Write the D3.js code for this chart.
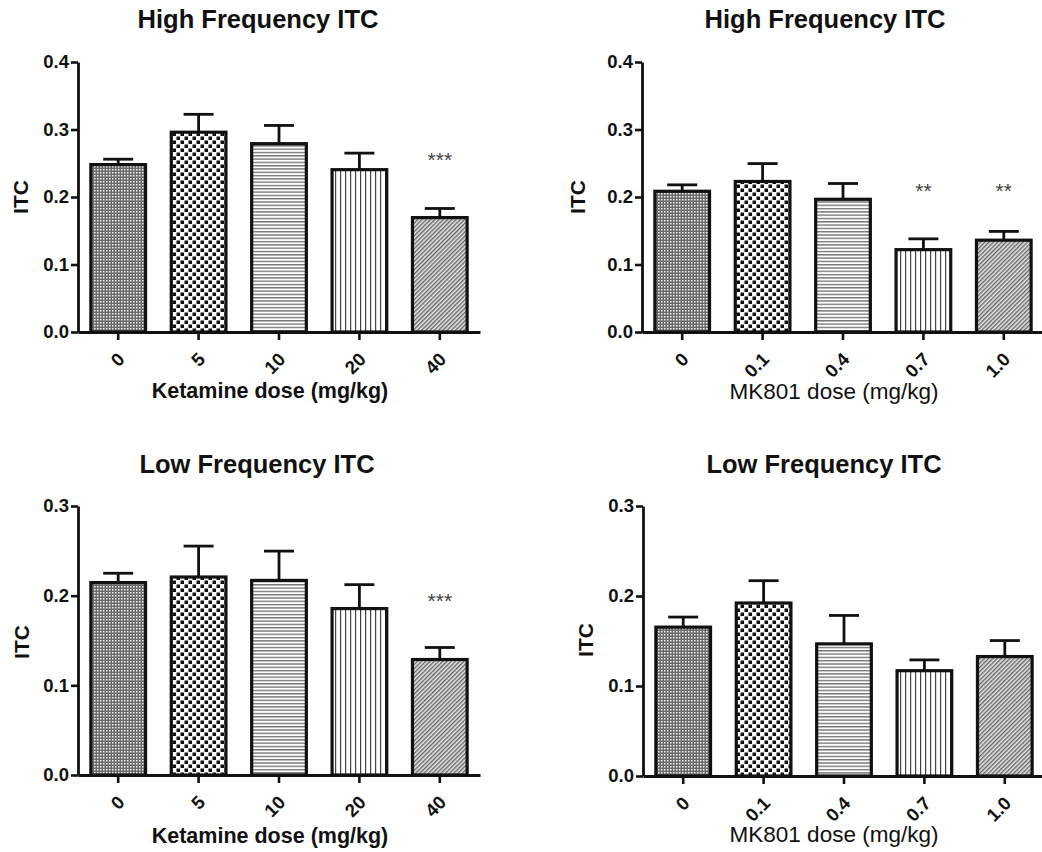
<!DOCTYPE html>
<html>
<head>
<meta charset="utf-8">
<script src="https://cdn.jsdelivr.net/npm/d3@7"></script>
<style>
  html, body { margin: 0; padding: 0; background: #fff; }
  svg { display: block; }
  text { font-family: "Liberation Sans", Arial, sans-serif; fill: #111; }
</style>
</head>
<body>
<svg id="chart" width="1042" height="852"></svg>
<script>
// ---- data ----
const ketamineDoses = ["0", "5", "10", "20", "40"];
const mk801Doses = ["0", "0.1", "0.4", "0.7", "1.0"];

const hfKetamineMean = [0.248, 0.296, 0.279, 0.2405, 0.1695];
const hfKetamineSem  = [0.008, 0.0265, 0.027, 0.0245, 0.0135];
const hfKetamineSig  = ["", "", "", "", "***"];

const hfMK801Mean = [0.2085, 0.223, 0.1966, 0.122, 0.136];
const hfMK801Sem  = [0.0095, 0.0265, 0.0234, 0.016, 0.013];
const hfMK801Sig  = ["", "", "", "**", "**"];

const lfKetamineMean = [0.2146, 0.2208, 0.217, 0.1856, 0.1288];
const lfKetamineSem  = [0.0104, 0.0345, 0.0327, 0.0267, 0.0134];
const lfKetamineSig  = ["", "", "", "", "***"];

const lfMK801Mean = [0.1654, 0.1922, 0.1468, 0.117, 0.1327];
const lfMK801Sem  = [0.0112, 0.0248, 0.0316, 0.012, 0.0178];
const lfMK801Sig  = ["", "", "", "", ""];

const hfTicks = [0, 0.1, 0.2, 0.3, 0.4];
const lfTicks = [0, 0.1, 0.2, 0.3];

// ---- drawing ----
const svg = d3.select("#chart");
const defs = svg.append("defs");

// pattern 0: fine checker
const p0 = defs.append("pattern").attr("id", "pat0").attr("patternUnits", "userSpaceOnUse")
  .attr("width", 3).attr("height", 3);
p0.append("rect").attr("width", 3).attr("height", 3).attr("fill", "#6a6a6a");
p0.append("rect").attr("x", 1).attr("y", 1).attr("width", 1.5).attr("height", 1.5).attr("fill", "#f2f2f2");

// pattern 1: coarse checker
const p1 = defs.append("pattern").attr("id", "pat1").attr("patternUnits", "userSpaceOnUse")
  .attr("width", 8).attr("height", 8);
p1.append("rect").attr("width", 8).attr("height", 8).attr("fill", "#fff");
p1.append("rect").attr("x", 0.5).attr("y", 0.5).attr("width", 3.5).attr("height", 3.5).attr("fill", "#111");
p1.append("rect").attr("x", 4.5).attr("y", 4.5).attr("width", 3.5).attr("height", 3.5).attr("fill", "#111");

// pattern 2: horizontal lines
const p2 = defs.append("pattern").attr("id", "pat2").attr("patternUnits", "userSpaceOnUse")
  .attr("width", 3).attr("height", 3.3);
p2.append("rect").attr("width", 3).attr("height", 3.3).attr("fill", "#fff");
p2.append("rect").attr("y", 0).attr("width", 3).attr("height", 1.4).attr("fill", "#777");

// pattern 3: vertical lines
const p3 = defs.append("pattern").attr("id", "pat3").attr("patternUnits", "userSpaceOnUse")
  .attr("width", 5).attr("height", 5);
p3.append("rect").attr("width", 5).attr("height", 5).attr("fill", "#fff");
p3.append("rect").attr("x", 0).attr("width", 1.2).attr("height", 5).attr("fill", "#444");

// pattern 4: diagonal lines
const p4 = defs.append("pattern").attr("id", "pat4").attr("patternUnits", "userSpaceOnUse")
  .attr("width", 3).attr("height", 3).attr("patternTransform", "rotate(45)");
p4.append("rect").attr("width", 3).attr("height", 3).attr("fill", "#e6e6e6");
p4.append("rect").attr("x", 0).attr("width", 1.4).attr("height", 3).attr("fill", "#666");

const panels = [
  { title: "High Frequency ITC", xTitle: "Ketamine dose (mg/kg)", xBold: true,
    cats: ketamineDoses, mean: hfKetamineMean, sem: hfKetamineSem, sig: hfKetamineSig, sigLevel: 0.257,
    ticks: hfTicks, left: 78, right: 480, top: 62, bottom: 332,
    titleX: 258, titleY: 28, xTitleX: 270, xTitleY: 398, yTitleX: 28, yTitleY: 197 },
  { title: "High Frequency ITC", xTitle: "MK801 dose (mg/kg)", xBold: false,
    cats: mk801Doses, mean: hfMK801Mean, sem: hfMK801Sem, sig: hfMK801Sig, sigLevel: 0.211,
    ticks: hfTicks, left: 642, right: 1044, top: 62, bottom: 332,
    titleX: 825, titleY: 28, xTitleX: 834, xTitleY: 399, yTitleX: 585, yTitleY: 197 },
  { title: "Low Frequency ITC", xTitle: "Ketamine dose (mg/kg)", xBold: true,
    cats: ketamineDoses, mean: lfKetamineMean, sem: lfKetamineSem, sig: lfKetamineSig, sigLevel: 0.196,
    ticks: lfTicks, left: 78, right: 480, top: 506, bottom: 775,
    titleX: 257, titleY: 473, xTitleX: 270, xTitleY: 843, yTitleX: 29, yTitleY: 642 },
  { title: "Low Frequency ITC", xTitle: "MK801 dose (mg/kg)", xBold: false,
    cats: mk801Doses, mean: lfMK801Mean, sem: lfMK801Sem, sig: lfMK801Sig, sigLevel: 0.2,
    ticks: lfTicks, left: 643, right: 1045, top: 506, bottom: 776,
    titleX: 824, titleY: 473, xTitleX: 834, xTitleY: 842, yTitleX: 593, yTitleY: 640 }
];

panels.forEach(cfg => {
  const g = svg.append("g");
  const yMax = cfg.ticks[cfg.ticks.length - 1];
  const x = d3.scaleBand().domain(cfg.cats).range([cfg.left, cfg.right])
    .paddingInner(0.32).paddingOuter(0.16);
  const y = d3.scaleLinear().domain([0, yMax]).range([cfg.bottom, cfg.top]);
  const rows = cfg.cats.map((c, i) => ({ c, i, v: cfg.mean[i], e: cfg.sem[i], s: cfg.sig[i] }));

  // error bars (upper only)
  const eb = g.append("g").attr("stroke", "#111").attr("stroke-width", 2.8).attr("fill", "none");
  rows.forEach(d => {
    const cx = x(d.c) + x.bandwidth() / 2;
    eb.append("line").attr("x1", cx).attr("x2", cx).attr("y1", y(d.v)).attr("y2", y(d.v + d.e));
    eb.append("line").attr("x1", cx - 15).attr("x2", cx + 15).attr("y1", y(d.v + d.e)).attr("y2", y(d.v + d.e));
  });

  // bars
  g.append("g").selectAll("rect").data(rows).join("rect")
    .attr("x", d => x(d.c))
    .attr("y", d => y(d.v))
    .attr("width", x.bandwidth())
    .attr("height", d => y(0) - y(d.v))
    .attr("fill", d => `url(#pat${d.i})`)
    .attr("stroke", "#111")
    .attr("stroke-width", 3.2);

  // significance
  g.append("g").selectAll("text").data(rows.filter(d => d.s)).join("text")
    .attr("x", d => x(d.c) + x.bandwidth() / 2)
    .attr("y", y(cfg.sigLevel) + 8.5)
    .attr("text-anchor", "middle")
    .style("font-size", "21px")
    .style("fill", "#444")
    .text(d => d.s);

  // y axis
  const ya = g.append("g").attr("transform", `translate(${cfg.left},0)`)
    .call(d3.axisLeft(y).tickValues(cfg.ticks).tickFormat(d3.format(".1f"))
      .tickSize(7).tickSizeOuter(0).tickPadding(2));
  ya.select(".domain").attr("stroke", "#111").attr("stroke-width", 2.8);
  ya.selectAll(".tick line").attr("stroke", "#111").attr("stroke-width", 2.6);
  ya.selectAll(".tick text").style("font-size", "18.5px").style("font-weight", "bold")
    .style("font-family", '"Liberation Sans", Arial, sans-serif').attr("fill", "#111");

  // x axis
  const xa = g.append("g").attr("transform", `translate(0,${cfg.bottom})`)
    .call(d3.axisBottom(x).tickSize(8).tickSizeOuter(0));
  xa.select(".domain").attr("stroke", "#111").attr("stroke-width", 2.8);
  xa.selectAll(".tick line").attr("stroke", "#111").attr("stroke-width", 2.6);
  xa.selectAll(".tick text")
    .attr("y", null).attr("dy", "0.35em")
    .attr("text-anchor", "end")
    .attr("transform", "translate(3,24) rotate(-45)")
    .style("font-size", "18.5px").style("font-weight", "bold")
    .style("font-family", '"Liberation Sans", Arial, sans-serif').attr("fill", "#111");

  // titles
  g.append("text").attr("x", cfg.titleX).attr("y", cfg.titleY)
    .attr("text-anchor", "middle").style("font-size", "25.5px").style("font-weight", "bold")
    .text(cfg.title);
  g.append("text").attr("x", cfg.xTitleX).attr("y", cfg.xTitleY)
    .attr("text-anchor", "middle").style("font-size", cfg.xBold ? "21.5px" : "22.5px")
    .style("font-weight", cfg.xBold ? "bold" : "normal")
    .text(cfg.xTitle);
  g.append("text").attr("transform", `translate(${cfg.yTitleX},${cfg.yTitleY}) rotate(-90)`)
    .attr("text-anchor", "middle").style("font-size", "21px").style("font-weight", "bold")
    .text("ITC");
});
</script>
</body>
</html>
